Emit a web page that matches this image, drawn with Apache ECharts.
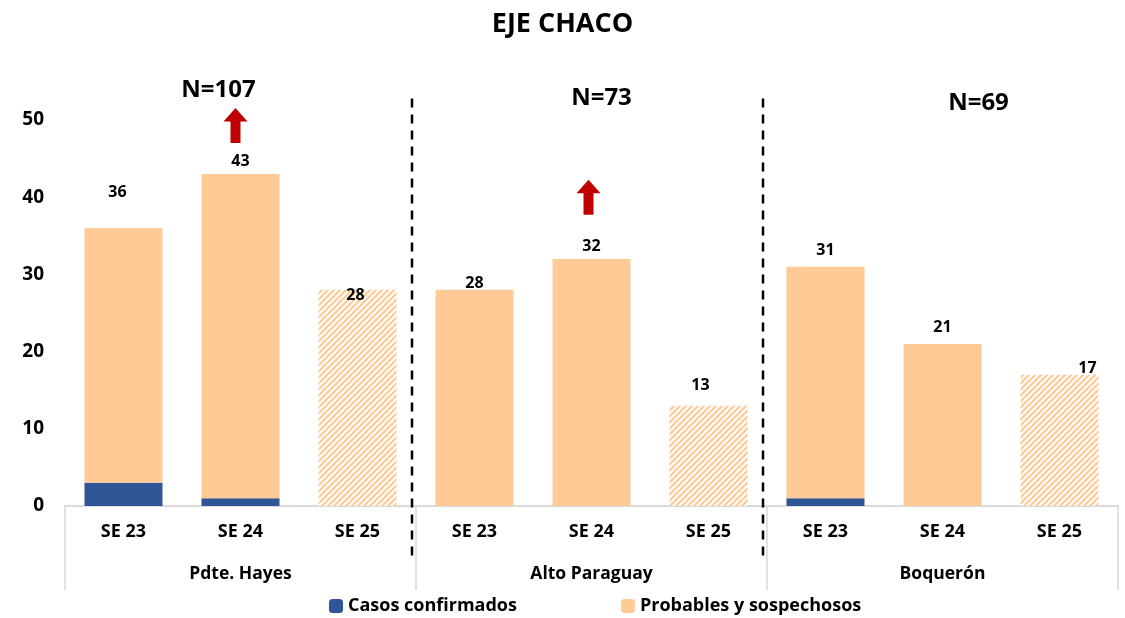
<!DOCTYPE html>
<html>
<head>
<meta charset="utf-8">
<script src="https://cdn.jsdelivr.net/npm/echarts@6/dist/echarts.min.js"></script>
<style>
html,body{margin:0;padding:0;background:#fff;}
#main{width:1125px;height:618px;}
</style>
</head>
<body>
<div id="main"></div>
<script>
var weeks = ["SE 23", "SE 24", "SE 25", "SE 23", "SE 24", "SE 25", "SE 23", "SE 24", "SE 25"];
var regions = ["Pdte. Hayes", "Alto Paraguay", "Boquerón"];
var confirmados = [3, 1, 0, 0, 0, 0, 1, 0, 0];
var probables = [33, 42, 28, 28, 32, 13, 30, 21, 17];
var totals = [36, 43, 28, 28, 32, 13, 31, 21, 17];
var regionN = ["N=107", "N=73", "N=69"];
var partialWeek = [false, false, true, false, false, true, false, false, true];
var yTicks = [0, 10, 20, 30, 40, 50];

var FONT = "Open Sans";
var blue = "#2F5597";
var peach = "#FFCA96";

// hatched fill for the incomplete week
function hatch() {
    var c = document.createElement("canvas");
    c.width = 6; c.height = 6;
    var g = c.getContext("2d");
    g.fillStyle = "#fff";
    g.fillRect(0, 0, 6, 6);
    g.strokeStyle = peach;
    g.lineWidth = 2.2;
    g.beginPath();
    g.moveTo(-1, 7); g.lineTo(7, -1);
    g.moveTo(-4, 4); g.lineTo(4, -4);
    g.moveTo(2, 10); g.lineTo(10, 2);
    g.stroke();
    return c;
}
var hatchImg = hatch();

// label placement above each bar [dx, dy]
var labelShift = [[-6, -22], [0, 1], [-2, 20], [0, 8], [0, 1], [-8, -6], [0, -2], [0, -2], [28, 8]];

var probData = probables.map(function (v, i) {
    var item = {
        value: v,
        label: { offset: labelShift[i] }
    };
    if (partialWeek[i]) {
        item.itemStyle = { color: { image: hatchImg, repeat: "repeat" } };
    }
    return item;
});

var arrowPath = "path://M12,0 L24,14 L17,14 L17,36 L7,36 L7,14 L0,14 Z";

var myChart = echarts.init(document.getElementById("main"));
var option = {
    animation: false,
    textStyle: { fontFamily: FONT },
    title: {
        text: "EJE CHACO",
        left: "center",
        top: 6,
        textStyle: { fontFamily: FONT, fontWeight: "bold", fontSize: 27, color: "#000" }
    },
    legend: {
        bottom: -2,
        left: 324,
        itemWidth: 14,
        itemHeight: 14,
        itemGap: 104,
        textStyle: { fontFamily: FONT, fontWeight: "bold", fontSize: 18, color: "#000" },
        data: ["Casos confirmados", "Probables y sospechosos"]
    },
    grid: { left: 65, right: 7, top: 120, bottom: 112 },
    xAxis: [{
        type: "category",
        data: weeks,
        axisLine: { lineStyle: { color: "#d9d9d9", width: 1.5 } },
        axisTick: { show: false },
        axisLabel: { margin: 17, interval: 0, color: "#000", fontWeight: "bold", fontSize: 18, fontFamily: FONT }
    }, {
        type: "category",
        data: regions,
        position: "bottom",
        axisLine: { lineStyle: { color: "#d9d9d9", width: 1.5 } },
        axisTick: { show: true, length: 84, interval: 0, lineStyle: { color: "#d9d9d9", width: 1.5 } },
        axisLabel: { margin: 59, interval: 0, color: "#000", fontWeight: "bold", fontSize: 17.5, fontFamily: FONT }
    }],
    yAxis: {
        type: "value",
        min: yTicks[0],
        max: yTicks[yTicks.length - 1],
        interval: 10,
        axisLine: { show: false },
        axisTick: { show: false },
        splitLine: { show: false },
        axisLabel: { margin: 21, color: "#000", fontWeight: "bold", fontSize: 19, fontFamily: FONT }
    },
    series: [{
        name: "Casos confirmados",
        type: "bar",
        stack: "t",
        barWidth: 78,
        itemStyle: { color: blue },
        data: confirmados
    }, {
        name: "Probables y sospechosos",
        type: "bar",
        stack: "t",
        barWidth: 78,
        itemStyle: { color: peach },
        label: {
            show: true,
            position: "top",
            distance: 6,
            color: "#000",
            fontWeight: "bold",
            fontSize: 16,
            fontFamily: FONT,
            formatter: function (p) { return totals[p.dataIndex]; }
        },
        data: probData,
        markPoint: {
            silent: true,
            label: { show: false },
            data: [
                { coord: [1, 49.3], symbol: arrowPath, symbolSize: [24, 35], symbolOffset: [-5, 0], itemStyle: { color: "#C00000" } },
                { coord: [4, 40.0], symbol: arrowPath, symbolSize: [24, 35], symbolOffset: [-3, 0], itemStyle: { color: "#C00000" } }
            ]
        }
    }]
};
myChart.setOption(option);

// dashed separators between the regions and N totals above each region
var extras = [];
[2, 5].forEach(function (i) {
    var x = (myChart.convertToPixel({ xAxisIndex: 0 }, i) + myChart.convertToPixel({ xAxisIndex: 0 }, i + 1)) / 2 - 4;
    var y1 = myChart.convertToPixel({ yAxisIndex: 0 }, 52.8);
    var y2 = myChart.convertToPixel({ yAxisIndex: 0 }, -7);
    extras.push({
        type: "line",
        shape: { x1: x, y1: y1, x2: x, y2: y2 },
        style: { stroke: "#000", lineWidth: 2.5, lineDash: [9, 7] },
        z: 10
    });
});
var nPlace = [[1, 53.9, -22], [4, 52.8, 10], [7, 52.2, 36]];
nPlace.forEach(function (p, k) {
    var pt = myChart.convertToPixel({ xAxisIndex: 0, yAxisIndex: 0 }, [p[0], p[1]]);
    extras.push({
        type: "text",
        x: pt[0] + p[2],
        y: pt[1],
        style: {
            text: regionN[k],
            fill: "#000",
            font: "bold 24px '" + FONT + "'",
            align: "center",
            verticalAlign: "middle"
        },
        z: 10
    });
});
myChart.setOption({ graphic: extras });
</script>
</body>
</html>
